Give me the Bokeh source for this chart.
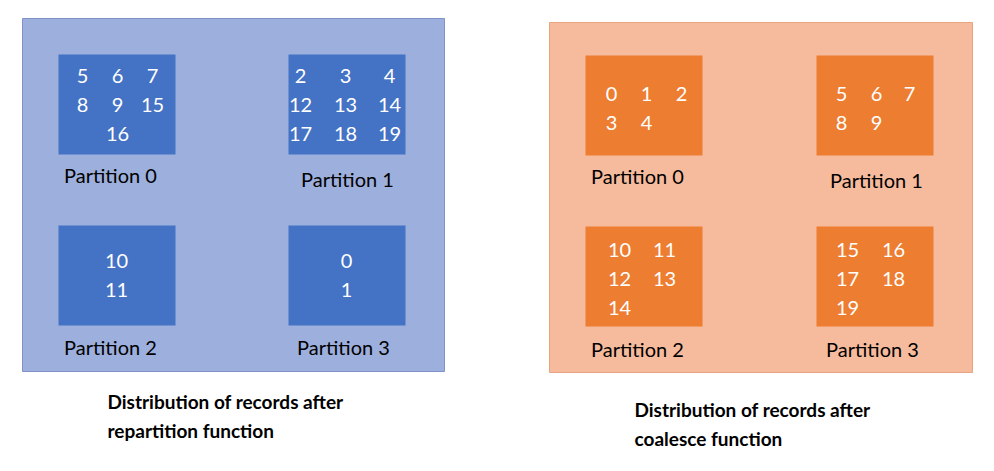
from bokeh.plotting import figure
from bokeh.models import Range1d
from bokeh.core.properties import value
from bokeh.embed import file_html
from bokeh.resources import INLINE

# data
repartition = {
    "Partition 0": [[5, 6, 7], [8, 9, 15], [None, 16, None]],
    "Partition 1": [[2, 3, 4], [12, 13, 14], [17, 18, 19]],
    "Partition 2": [[10], [11]],
    "Partition 3": [[0], [1]],
}
coalesce = {
    "Partition 0": [[0, 1, 2], [3, 4]],
    "Partition 1": [[5, 6, 7], [8, 9]],
    "Partition 2": [[10, 11], [12, 13], [14]],
    "Partition 3": [[15, 16], [17, 18], [19]],
}
captions = ["Distribution of records after\nrepartition function",
            "Distribution of records after\ncoalesce function"]

p = figure(width=978, height=455, x_range=Range1d(0, 978), y_range=Range1d(455, 0),
           output_backend="svg", toolbar_location=None, min_border=0)
p.axis.visible = False
p.grid.visible = False
p.outline_line_color = None
p.background_fill_color = "white"

FONT = value("Lato")

def panel(x0, y0, x1, y1, fill, edge):
    p.quad(left=[x0], right=[x1], top=[y0], bottom=[y1], fill_color=fill, line_color=edge, line_width=1)

panel(22, 18, 444, 371, "#9db0dd", "#7f93c8")
panel(549, 22, 972, 372, "#f6bb9d", "#e8a380")

def partitions(data, boxes, color, col_x, labels, row_y0):
    for (name, rows), (bx, by), (lx, ly) in zip(data.items(), boxes, labels):
        p.quad(left=[bx], right=[bx + 117], top=[by], bottom=[by + 100], fill_color=color, line_color=None)
        xs, ys, ts = [], [], []
        cx = col_x[name]
        for r, row in enumerate(rows):
            for c, v in enumerate(row):
                if v is None:
                    continue
                xs.append(bx + cx[c] if len(row) > 1 or len(cx) > 1 else bx + 58)
                ys.append(by + row_y0[name] + r * 29)
                ts.append(str(v))
        p.text(x=xs, y=ys, text=ts, text_color="white", text_font=FONT, text_font_size="20px",
               text_align="center", text_baseline="middle")
        p.text(x=[lx], y=[ly], text=[name], text_color="black", text_font=FONT, text_font_size="20px",
               text_align="center", text_baseline="middle")

partitions(repartition,
           [(58, 54), (288, 54), (58, 225), (288, 225)], "#4472c4",
           {"Partition 0": [24, 59, 94], "Partition 1": [12, 57, 101],
            "Partition 2": [59], "Partition 3": [50]},
           [(110, 174), (347, 178), (110, 346), (343, 346)],
           {"Partition 0": 21, "Partition 1": 21, "Partition 2": 35, "Partition 3": 35})

partitions(coalesce,
           [(585, 55), (816, 55), (585, 226), (816, 226)], "#ed7d31",
           {"Partition 0": [26, 61, 96], "Partition 1": [25, 60, 93],
            "Partition 2": [34, 79], "Partition 3": [31, 77]},
           [(637, 175), (876, 179), (637, 348), (872, 348)],
           {"Partition 0": 38, "Partition 1": 38, "Partition 2": 23, "Partition 3": 23})

for cap, (x, y) in zip(captions, [(107, 401), (634, 409)]):
    lines = cap.split("\n")
    p.text(x=[x] * len(lines), y=[y + i * 29 for i in range(len(lines))], text=lines,
           text_color="black", text_font=FONT, text_font_size="19px", text_font_style="bold",
           text_align="left", text_baseline="middle")

open("out.html", "w").write(file_html(p, INLINE))
